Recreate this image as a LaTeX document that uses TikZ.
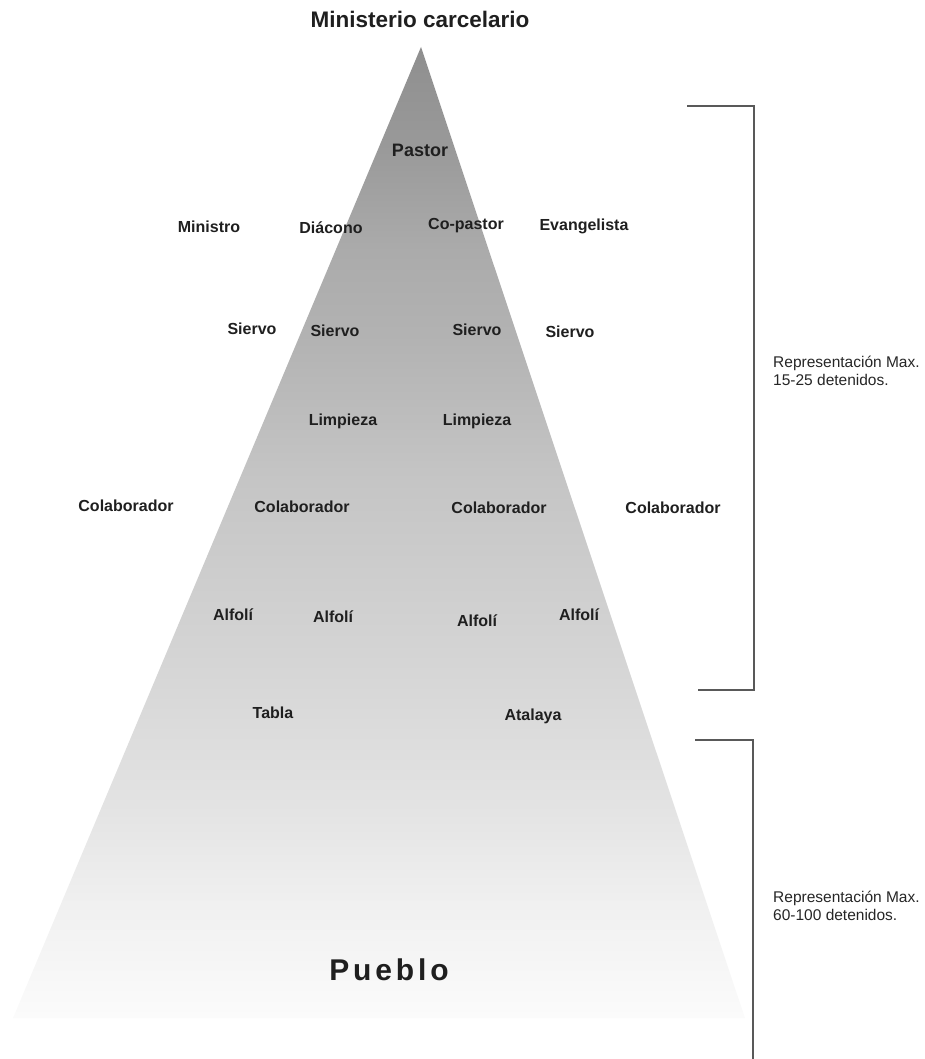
\documentclass[tikz,border=0pt]{standalone}
\usepackage{fontspec}
\setmainfont{Liberation Sans}
\pgfdeclareverticalshading{pyr}{100bp}{%
rgb(0bp)=(0.985,0.985,0.985);
rgb(25bp)=(0.985,0.985,0.985);
rgb(31bp)=(0.94,0.94,0.94);
rgb(36bp)=(0.89,0.89,0.89);
rgb(44bp)=(0.83,0.83,0.83);
rgb(53bp)=(0.77,0.77,0.77);
rgb(60bp)=(0.70,0.70,0.70);
rgb(64.5bp)=(0.67,0.67,0.67);
rgb(70bp)=(0.60,0.60,0.60);
rgb(75bp)=(0.56,0.56,0.56);
rgb(100bp)=(0.56,0.56,0.56)}
\tikzset{
  lab/.style={font=\bfseries\fontsize{16}{19}\selectfont, text=black!88, inner sep=0pt},
  note/.style={font=\fontsize{15.5}{18}\selectfont, text=black!85, inner sep=0pt, align=left, anchor=west},
  brk/.style={draw=black!65, line width=1.2pt}
}
\begin{document}
\begin{tikzpicture}[x=1pt,y=-1pt]
\useasboundingbox (0,0) rectangle (925,1059);
% pyramid
\coordinate (apex) at (421,47);
\coordinate (bl) at (13,1018);
\coordinate (br) at (745,1018);
\shade[shading=pyr] (apex) -- (br) -- (bl) -- cycle;
% title
\node[lab, font=\bfseries\fontsize{22.5}{26}\selectfont] (title) at (420,19) {Ministerio carcelario};
\node[lab, font=\bfseries\fontsize{18}{21}\selectfont] (pastor) at (420,150) {Pastor};
\node[lab] (ministro) at (209,227) {Ministro};
\node[lab] (diacono) at (331,228) {Diácono};
\node[lab] (copastor) at (466,226) {Co-pastor};
\node[lab] (evang) at (584,226) {Evangelista};
\node[lab] (s1) at (252,329) {Siervo};
\node[lab] (s2) at (335,331) {Siervo};
\node[lab] (s3) at (477,330) {Siervo};
\node[lab] (s4) at (570,332) {Siervo};
\node[lab] (l1) at (343,421) {Limpieza};
\node[lab] (l2) at (477,421) {Limpieza};
\node[lab] (c1) at (126,506) {Colaborador};
\node[lab] (c2) at (302,507) {Colaborador};
\node[lab] (c3) at (499,508) {Colaborador};
\node[lab] (c4) at (673,508) {Colaborador};
\node[lab] (a1) at (233,615) {Alfolí};
\node[lab] (a2) at (333,617) {Alfolí};
\node[lab] (a3) at (477,621) {Alfolí};
\node[lab] (a4) at (579,615) {Alfolí};
\node[lab] (tabla) at (273,713) {Tabla};
\node[lab] (atalaya) at (533,716) {Atalaya};
\node[lab, font=\bfseries\fontsize{30}{34}\selectfont\addfontfeatures{LetterSpace=13}] (pueblo) at (389,970) {Pueblo};
% brackets
\coordinate (b1a) at (687,106);
\coordinate (b1b) at (754,106);
\coordinate (b1c) at (754,690);
\coordinate (b1d) at (698,690);
\draw[brk] (b1a) -- (b1b) -- (b1c) -- (b1d);
\coordinate (b2a) at (695,740);
\coordinate (b2b) at (753,740);
\coordinate (b2c) at (753,1059);
\draw[brk] (b2a) -- (b2b) -- (b2c);
\node[note] (r1) at (773,371) {Representación Max.\\15-25 detenidos.};
\node[note] (r2) at (773,906) {Representación Max.\\60-100 detenidos.};
\end{tikzpicture}
\end{document}
